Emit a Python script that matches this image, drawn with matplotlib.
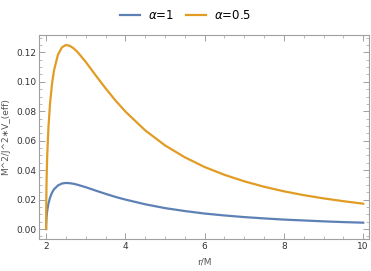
import matplotlib
matplotlib.use("Agg")
import matplotlib.pyplot as plt
from matplotlib.ticker import MultipleLocator, FormatStrFormatter

# values
r = [2.0, 2.001, 2.01, 2.02, 2.03, 2.06, 2.1, 2.15, 2.2, 2.3, 2.4, 2.5, 2.6, 2.7,
     2.8, 3.0, 3.25, 3.5, 3.75, 4.0, 4.5, 5.0, 5.5, 6.0, 6.5, 7.0, 7.5, 8.0,
     8.5, 9.0, 9.5, 10.0]
v_a1 = [0.0, 0.0024, 0.0075, 0.0105, 0.0127, 0.0173, 0.0214, 0.0247, 0.0270,
        0.0296, 0.0309, 0.0313, 0.0311, 0.0307, 0.0300, 0.0284, 0.0261, 0.0239,
        0.0218, 0.0200, 0.0168, 0.0142, 0.0122, 0.0105, 0.0092, 0.0081, 0.0072,
        0.0064, 0.0058, 0.0052, 0.0047, 0.0043]
v_a05 = [0.0, 0.0096, 0.0300, 0.0420, 0.0508, 0.0693, 0.0854, 0.0987, 0.1078,
         0.1185, 0.1234, 0.1250, 0.1244, 0.1226, 0.1200, 0.1135, 0.1044, 0.0956,
         0.0873, 0.0798, 0.0670, 0.0568, 0.0487, 0.0421, 0.0368, 0.0324, 0.0287,
         0.0256, 0.0230, 0.0208, 0.0189, 0.0172]
labels = [r"$\alpha$=1", r"$\alpha$=0.5"]

blue = "#5e81b5"
orange = "#e19c24"
frame = "#a0a0a0"

fig = plt.figure(figsize=(3.71, 2.71), dpi=100)
ax = fig.add_axes([0.105, 0.118, 0.89, 0.753])

ax.plot(r, v_a1, color=blue, lw=1.6, label=labels[0], solid_joinstyle="round")
ax.plot(r, v_a05, color=orange, lw=1.6, label=labels[1], solid_joinstyle="round")

ax.set_xlim(1.82, 10.15)
ax.set_ylim(-0.0068, 0.1318)
ax.xaxis.set_major_locator(MultipleLocator(2))
ax.xaxis.set_minor_locator(MultipleLocator(0.5))
ax.yaxis.set_major_locator(MultipleLocator(0.02))
ax.yaxis.set_minor_locator(MultipleLocator(0.005))
ax.yaxis.set_major_formatter(FormatStrFormatter("%.2f"))

for s in ax.spines.values():
    s.set_color(frame)
    s.set_linewidth(0.8)
ax.tick_params(which="both", direction="in", top=True, right=True,
               color=frame, labelsize=6.5, labelcolor="#333333", pad=2)
ax.tick_params(which="major", length=4, width=0.7)
ax.tick_params(which="minor", length=2, width=0.5)

ax.set_xlabel("r/M", fontsize=6.5, color="#555555", labelpad=5)
ax.set_ylabel("M^2/J^2\u2217V_(eff)", fontsize=6.5, color="#555555", labelpad=4)

fig.legend(loc="center", bbox_to_anchor=(0.5, 0.942), ncol=2, frameon=False,
           fontsize=8.5, handlelength=1.7, columnspacing=1.0, handletextpad=0.7)

fig.savefig("out.png", dpi=100)
